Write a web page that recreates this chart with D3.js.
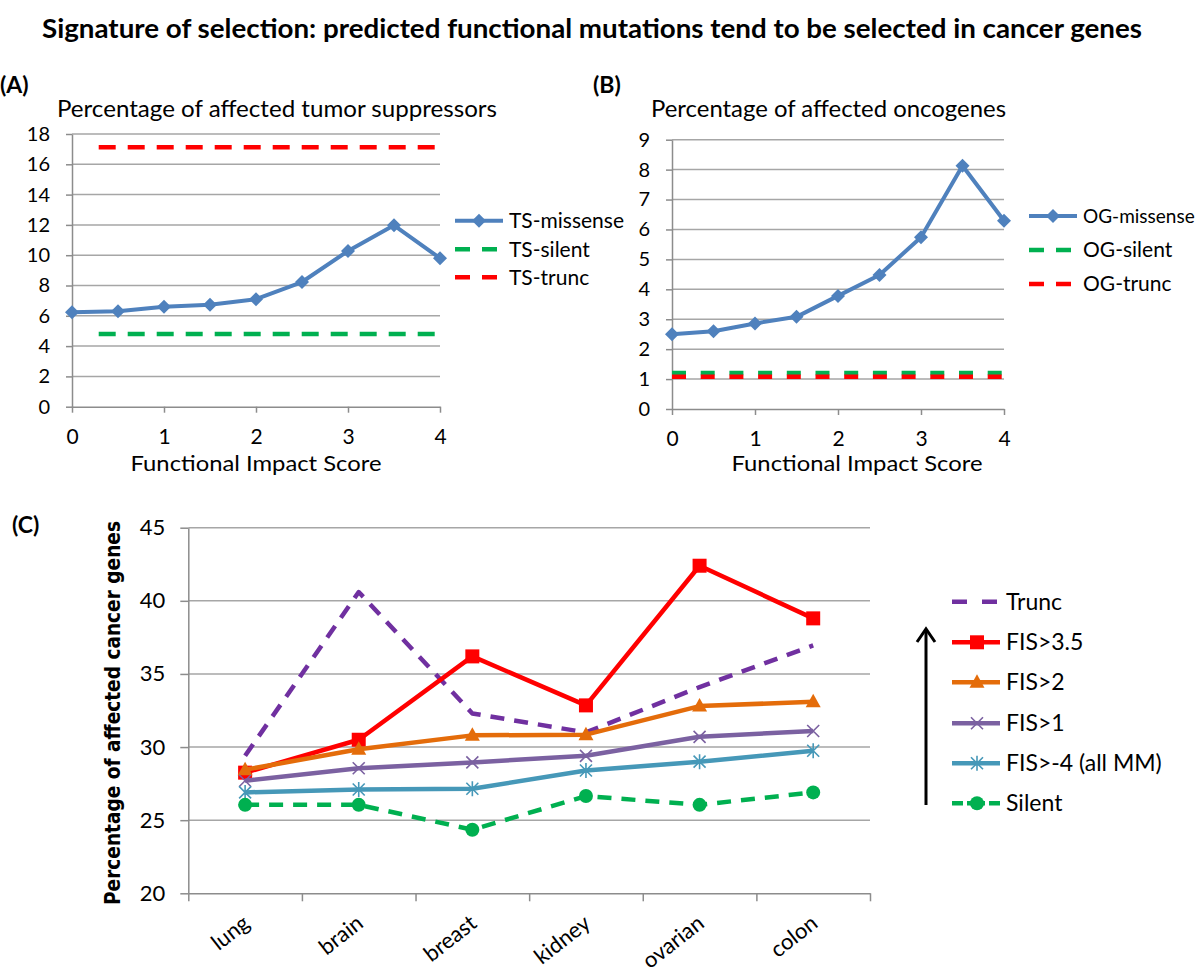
<!DOCTYPE html>
<html><head><meta charset="utf-8">
<script src="https://cdn.jsdelivr.net/npm/d3@7"></script>
<style>body{margin:0;background:#fff}svg{display:block}</style>
</head><body><svg id="c" width="1200" height="976"></svg>
<script>
// ---------- DATA ----------
const fisScores = [0, 0.5, 1, 1.5, 2, 2.5, 3, 3.5, 4];
const fisTickLabels = [0, 1, 2, 3, 4];
const tsTicks = [0, 2, 4, 6, 8, 10, 12, 14, 16, 18];
const tsMissense = [6.23, 6.3, 6.6, 6.73, 7.1, 8.23, 10.28, 11.97, 9.8];
const tsSilent   = [4.8, 4.8, 4.8, 4.8, 4.8, 4.8, 4.8, 4.8, 4.8];
const tsTrunc    = [17.12, 17.12, 17.12, 17.12, 17.12, 17.12, 17.12, 17.12, 17.12];
const ogTicks = [0, 1, 2, 3, 4, 5, 6, 7, 8, 9];
const ogMissense = [2.5, 2.6, 2.86, 3.08, 3.78, 4.48, 5.74, 8.13, 6.29];
const ogSilent   = [1.2, 1.2, 1.2, 1.2, 1.2, 1.2, 1.2, 1.2, 1.2];
const ogTrunc    = [1.08, 1.08, 1.08, 1.08, 1.08, 1.08, 1.08, 1.08, 1.08];
const cancerTypes = ["lung", "brain", "breast", "kidney", "ovarian", "colon"];
const cTicks = [20, 25, 30, 35, 40, 45];
const truncC  = [29.4, 40.6, 32.3, 31.0, 34.1, 36.95];
const fis35C  = [28.25, 30.5, 36.2, 32.85, 42.4, 38.8];
const fis2C   = [28.45, 29.85, 30.8, 30.85, 32.8, 33.1];
const fis1C   = [27.7, 28.55, 28.95, 29.4, 30.7, 31.1];
const fisAllC = [26.9, 27.1, 27.15, 28.4, 29.0, 29.75];
const silentC = [26.05, 26.05, 24.35, 26.65, 26.05, 26.9];
const seriesNamesC = ["Trunc", "FIS>3.5", "FIS>2", "FIS>1", "FIS>-4 (all MM)", "Silent"];

// ---------- STYLE ----------
const FONT = "Lato, 'Open Sans', sans-serif";
const GRID = "#a6a6a6", AXIS = "#8c8c8c";
const BLUE = "#4f81bd", GREEN = "#00b050", RED = "#ff0000";
const svg = d3.select("#c");

svg.append("text").attr("x", 42).attr("y", 38).attr("font-family", FONT).attr("font-weight", "bold")
  .attr("font-size", 27).attr("textLength", 1100).attr("lengthAdjust", "spacingAndGlyphs")
  .text("Signature of selection: predicted functional mutations tend to be selected in cancer genes");

function styleAxis(g, fs) {
  g.attr("font-family", FONT).attr("font-size", fs);
  g.select(".domain").attr("stroke", AXIS).attr("stroke-width", 1.5);
  g.selectAll(".tick line").attr("stroke", AXIS).attr("stroke-width", 1.5);
  g.selectAll(".tick text").attr("fill", "#000");
}

function diamond(s) { return `M0,${-s}L${s},0L0,${s}L${-s},0Z`; }

function fisPanel(cfg) {
  const x = d3.scaleLinear().domain([0, 4]).range([cfg.x0, cfg.x1]);
  const y = d3.scaleLinear().domain([0, cfg.ticks[cfg.ticks.length - 1]]).range([cfg.y0, cfg.y1]);
  const g = svg.append("g");
  g.append("text").attr("x", cfg.labX).attr("y", 93).attr("font-family", FONT).attr("font-weight", "bold")
    .attr("font-size", 23).text(cfg.label);
  g.append("text").attr("x", cfg.titleX).attr("y", 117).attr("font-family", FONT).attr("font-size", 23)
    .attr("textLength", cfg.titleLen).attr("lengthAdjust", "spacingAndGlyphs").text(cfg.title);
  g.selectAll("line.grid").data(cfg.ticks.slice(1)).join("line").attr("class", "grid")
    .attr("x1", cfg.x0).attr("x2", cfg.x1).attr("y1", d => y(d)).attr("y2", d => y(d))
    .attr("stroke", GRID).attr("stroke-width", 1.5);
  const ya = g.append("g").attr("transform", `translate(${cfg.x0},0)`)
    .call(d3.axisLeft(y).tickValues(cfg.ticks).tickSize(6).tickSizeOuter(0).tickPadding(16).tickFormat(d3.format("d")));
  styleAxis(ya, 20);
  const xa = g.append("g").attr("transform", `translate(0,${cfg.y0})`)
    .call(d3.axisBottom(x).tickValues(fisTickLabels).tickSize(6).tickSizeOuter(0).tickPadding(16).tickFormat(d3.format("d")));
  styleAxis(xa, 21);
  g.append("text").attr("x", cfg.axTitleX).attr("y", 471).attr("text-anchor", "middle")
    .attr("font-family", FONT).attr("font-size", 22).attr("textLength", 251).attr("lengthAdjust", "spacingAndGlyphs")
    .text("Functional Impact Score");
  const line = d3.line().x((d, i) => x(fisScores[i])).y(d => y(d));
  const dashes = [0, cfg.dashStart].concat(d3.range(20).flatMap(() => cfg.dash));
  g.append("path").attr("d", line(cfg.silent)).attr("fill", "none").attr("stroke", GREEN).attr("stroke-width", 4.5)
    .attr("stroke-dasharray", dashes.join(","));
  g.append("path").attr("d", line(cfg.trunc)).attr("fill", "none").attr("stroke", RED).attr("stroke-width", 4.5)
    .attr("stroke-dasharray", dashes.join(","));
  g.append("path").attr("d", line(cfg.missense)).attr("fill", "none").attr("stroke", BLUE).attr("stroke-width", 4)
    .attr("stroke-linejoin", "round");
  g.selectAll("path.mk").data(cfg.missense).join("path").attr("class", "mk")
    .attr("transform", (d, i) => `translate(${x(fisScores[i])},${y(d)})`).attr("d", diamond(7)).attr("fill", BLUE);
  // legend
  const leg = [
    { name: cfg.names[0], color: BLUE, dash: null, marker: true },
    { name: cfg.names[1], color: GREEN, dash: "15,12", marker: false },
    { name: cfg.names[2], color: RED, dash: "15,12", marker: false }];
  leg.forEach((l, i) => {
    const yy = cfg.legY[i];
    g.append("line").attr("x1", cfg.legX).attr("x2", cfg.legX + 48).attr("y1", yy).attr("y2", yy)
      .attr("stroke", l.color).attr("stroke-width", l.dash ? 4.5 : 4).attr("stroke-dasharray", l.dash);
    if (l.marker) g.append("path").attr("transform", `translate(${cfg.legX + 24},${yy})`).attr("d", diamond(7)).attr("fill", l.color);
    g.append("text").attr("x", cfg.legX + 54).attr("y", yy).attr("dy", "0.35em").attr("font-family", FONT)
      .attr("font-size", cfg.legFs[i]).text(l.name);
  });
}

fisPanel({ label: "(A)", labX: 0, title: "Percentage of affected tumor suppressors", titleX: 57, titleLen: 440,
  x0: 72, x1: 440, y0: 406.7, y1: 134, ticks: tsTicks, axTitleX: 256,
  missense: tsMissense, silent: tsSilent, trunc: tsTrunc, dash: [17, 12], dashStart: 26.7,
  names: ["TS-missense", "TS-silent", "TS-trunc"], legX: 455, legY: [220.7, 249.3, 277.3], legFs: [21, 21, 21] });
fisPanel({ label: "(B)", labX: 593, title: "Percentage of affected oncogenes", titleX: 651, titleLen: 355,
  x0: 672, x1: 1004, y0: 409, y1: 139.7, ticks: ogTicks, axTitleX: 857,
  missense: ogMissense, silent: ogSilent, trunc: ogTrunc, dash: [14, 14.7], dashStart: 0,
  names: ["OG-missense", "OG-silent", "OG-trunc"], legX: 1029, legY: [216, 250, 284], legFs: [19, 21, 21] });

// ---------- PANEL C ----------
(function () {
  const x0 = 188.3, x1 = 870, y0 = 893.3, y1 = 527.7;
  const x = d3.scaleBand().domain(cancerTypes).range([x0, x1]);
  const xi = d3.scaleLinear().domain([0, cancerTypes.length]).range([x0, x1]);
  const y = d3.scaleLinear().domain([20, 45]).range([y0, y1]);
  const cx = d => x(d) + x.bandwidth() / 2;
  const g = svg.append("g");
  g.append("text").attr("x", 12).attr("y", 533).attr("font-family", FONT).attr("font-weight", "bold")
    .attr("font-size", 23).text("(C)");
  g.append("text").attr("transform", `translate(120,713) rotate(-90)`).attr("text-anchor", "middle")
    .attr("font-family", "'DejaVu Sans', Verdana, sans-serif").attr("font-weight", "bold").attr("font-size", 22)
    .attr("textLength", 384).attr("lengthAdjust", "spacingAndGlyphs").text("Percentage of affected cancer genes");
  g.selectAll("line.grid").data(cTicks.slice(1)).join("line").attr("class", "grid")
    .attr("x1", x0).attr("x2", x1).attr("y1", d => y(d)).attr("y2", d => y(d))
    .attr("stroke", GRID).attr("stroke-width", 1.5);
  const ya = g.append("g").attr("transform", `translate(${x0},0)`)
    .call(d3.axisLeft(y).tickValues(cTicks).tickSize(8).tickSizeOuter(0).tickPadding(15));
  styleAxis(ya, 22);
  const xa = g.append("g").attr("transform", `translate(0,${y0})`)
    .call(d3.axisBottom(xi).tickValues(d3.range(cancerTypes.length + 1)).tickSize(8).tickSizeOuter(0).tickFormat(""));
  styleAxis(xa, 20);
  g.selectAll("text.xl").data(cancerTypes).join("text").attr("class", "xl")
    .attr("transform", d => `translate(${cx(d) + 6},926) rotate(-38)`).attr("text-anchor", "end")
    .attr("font-family", FONT).attr("font-size", 22).text(d => d);

  const markers = {
    square: (s) => s.append("rect").attr("x", -7).attr("y", -7).attr("width", 14).attr("height", 14),
    triangle: (s) => s.append("path").attr("d", "M0,-8L7.5,5.5L-7.5,5.5Z"),
    x: (s, c) => s.append("path").attr("d", "M-6,-6L6,6M-6,6L6,-6").attr("stroke", c).attr("stroke-width", 1.6).attr("fill", "none"),
    star: (s, c) => s.append("path").attr("d", "M-6,-6L6,6M-6,6L6,-6M0,-7.5L0,7.5").attr("stroke", c).attr("stroke-width", 1.6).attr("fill", "none"),
    circle: (s) => s.append("circle").attr("r", 7)
  };
  const series = [
    { vals: truncC, color: "#7030a0", dash: "14,10", marker: null },
    { vals: fis35C, color: "#ff0000", dash: null, marker: "square" },
    { vals: fis2C, color: "#e46c0a", dash: null, marker: "triangle" },
    { vals: fis1C, color: "#7b61a1", dash: null, marker: "x" },
    { vals: fisAllC, color: "#4698b8", dash: null, marker: "star" },
    { vals: silentC, color: "#00b050", dash: "14,10", marker: "circle" }];
  const line = d3.line().x((d, i) => cx(cancerTypes[i])).y(d => y(d));
  series.forEach(s => {
    g.append("path").attr("d", line(s.vals)).attr("fill", "none").attr("stroke", s.color).attr("stroke-width", 4.5)
      .attr("stroke-dasharray", s.dash).attr("stroke-linejoin", "round");
    if (s.marker) s.vals.forEach((v, i) => {
      const m = g.append("g").attr("transform", `translate(${cx(cancerTypes[i])},${y(v)})`).attr("fill", s.color);
      markers[s.marker](m, s.color);
    });
  });
  // legend
  const legY = [601.7, 642.3, 682.3, 723.3, 763.3, 803.3];
  series.forEach((s, i) => {
    const yy = legY[i];
    g.append("line").attr("x1", 952).attr("x2", 1000).attr("y1", yy).attr("y2", yy).attr("stroke", s.color)
      .attr("stroke-width", 4.5).attr("stroke-dasharray", s.marker === null ? "15,15" : (s.dash ? "11,4,18,4" : null));
    if (s.marker) {
      const m = g.append("g").attr("transform", `translate(977,${yy})`).attr("fill", s.color);
      markers[s.marker](m, s.color);
    }
    g.append("text").attr("x", 1006).attr("y", yy).attr("dy", "0.35em").attr("font-family", FONT)
      .attr("font-size", 23).text(seriesNamesC[i]);
  });
  // arrow
  g.append("line").attr("x1", 926).attr("x2", 926).attr("y1", 805).attr("y2", 630).attr("stroke", "#000").attr("stroke-width", 3);
  g.append("path").attr("d", "M917,642L926,629L935,642").attr("fill", "none").attr("stroke", "#000").attr("stroke-width", 3);
})();
</script></body></html>
